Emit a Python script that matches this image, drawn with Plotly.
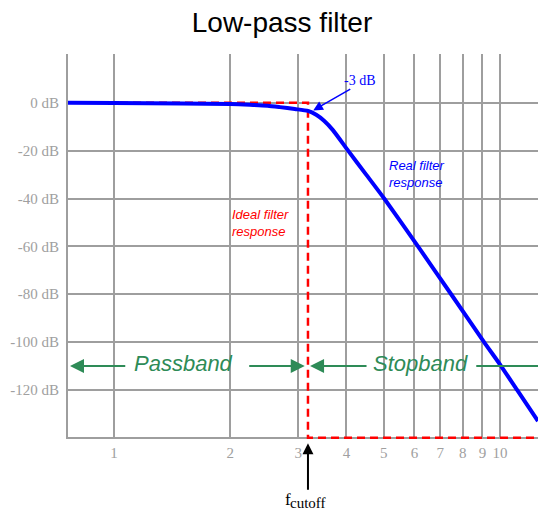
import numpy as np
import plotly.graph_objects as go

# ---------------- data ----------------
title_text = "Low-pass filter"

# real filter response: frequency (relative units) and gain in dB
real_freq = [0.76, 1.0, 1.5, 2.0, 2.25, 2.5, 2.69, 2.94, 3.18, 3.34, 3.50, 3.69,
             4.04, 4.50, 5.01, 6.13, 7.47, 9.09, 10.06, 11.07, 12.54]
real_gain = [0.0, -0.1, -0.3, -0.5, -0.8, -1.2, -1.8, -2.6, -3.4, -5.0, -7.5, -11.4,
             -20.0, -30.0, -40.0, -60.0, -80.0, -100.0, -110.0, -120.0, -133.0]

# ideal (brick-wall) response
f_cutoff = 3.18
ideal_freq = [0.76, f_cutoff, f_cutoff, 12.54]
ideal_gain = [0.0, 0.0, -140.0, -140.0]

x_tick_vals = [1, 2, 3, 4, 5, 6, 7, 8, 9, 10]
x_tick_text = ["1", "2", "3", "4", "5", "6", "7", "8", "9", "10"]
y_tick_vals = [-140, -120, -100, -80, -60, -40, -20, 0, 20]
y_tick_text = ["", "-120 dB", "-100 dB", "-80 dB", "-60 dB", "-40 dB", "-20 dB", "0 dB", ""]

x_range = [0.76, 12.54]
y_range = [-140.5, 20.4]

# annotation anchors (data units)
minus3_label = (4.34, 9.2)
minus3_tail = (4.13, 6.1)
minus3_tip = (3.28, -3.2)
real_label = (5.09, -29.9)
ideal_label = (2.0, -50.4)
band_y = -110.0
band_label_y = -109.1
band_labels = ["Passband", "Stopband"]
band_label_x = [1.514, 6.24]
band_arrow_tails = [1.079, 2.22, 4.55, 8.6]
band_arrow_tips = [0.769, 3.12, 3.22, 12.54]
band_arrow_heads = [2, 2, 2, 0]

# ---------------- styles ----------------
GRID = "#9e9e9e"
TICKC = "#a0a0a0"
SERIF = "Liberation Serif"
SANS = "Liberation Sans"
GREEN = "#2e8b57"

fig = go.Figure()

fig.add_trace(go.Scatter(
    x=ideal_freq, y=ideal_gain, mode="lines",
    line=dict(color="#ff0000", width=2.5, dash="8px,5px"),
    hoverinfo="skip", showlegend=False))

fig.add_trace(go.Scatter(
    x=real_freq, y=real_gain, mode="lines",
    line=dict(color="#0000ff", width=4, shape="spline", smoothing=0.6),
    hoverinfo="skip", showlegend=False))

L = np.log10
ann = []

# -3 dB label and arrow
ann.append(dict(x=L(minus3_label[0]), y=minus3_label[1], xref="x", yref="y",
                text="-3 dB", showarrow=False,
                font=dict(family=SERIF, size=14, color="#0000ff")))
ann.append(dict(x=L(minus3_tip[0]), y=minus3_tip[1], xref="x", yref="y",
                ax=L(minus3_tail[0]), ay=minus3_tail[1], axref="x", ayref="y",
                text="", showarrow=True, arrowhead=2, arrowsize=1.3, arrowwidth=1.5,
                arrowcolor="#0000ff"))

ann.append(dict(x=L(real_label[0]), y=real_label[1], xref="x", yref="y", xanchor="left",
                text="Real filter<br>response", showarrow=False, align="left",
                font=dict(family=SANS, size=13, color="#0000ff", style="italic")))
ann.append(dict(x=L(ideal_label[0]), y=ideal_label[1], xref="x", yref="y", xanchor="left",
                text="Ideal filter<br>response", showarrow=False, align="left",
                font=dict(family=SANS, size=13, color="#ff0000", style="italic")))

for txt, xx in zip(band_labels, band_label_x):
    ann.append(dict(x=L(xx), y=band_label_y, xref="x", yref="y",
                    text=txt, showarrow=False,
                    font=dict(family=SANS, size=22, color=GREEN, style="italic")))
for tail, tip, head in zip(band_arrow_tails, band_arrow_tips, band_arrow_heads):
    ann.append(dict(x=L(tip), y=band_y, xref="x", yref="y",
                    ax=L(tail), ay=band_y, axref="x", ayref="y",
                    text="", showarrow=True, arrowhead=head, arrowsize=1.4, arrowwidth=2,
                    arrowcolor=GREEN))

# f_cutoff marker below the axis
ann.append(dict(x=L(f_cutoff), y=-0.0112, xref="x", yref="paper",
                ax=0, ay=48, text="", showarrow=True, arrowhead=2, arrowsize=1.1,
                arrowwidth=2, arrowcolor="black"))
ann.append(dict(x=L(f_cutoff), y=0, xref="x", yref="paper", xshift=-19.8, yshift=-60.5,
                text="f", showarrow=False, yanchor="middle",
                font=dict(family=SERIF, size=17, color="black")))
ann.append(dict(x=L(f_cutoff), y=0, xref="x", yref="paper", xshift=0, yshift=-63.8,
                text="cutoff", showarrow=False, yanchor="middle",
                font=dict(family=SERIF, size=15, color="black")))

fig.update_layout(
    width=538, height=512,
    margin=dict(l=68, r=0, t=54, b=73),
    paper_bgcolor="white", plot_bgcolor="white",
    title=dict(text=title_text, x=282 / 538, xanchor="center", xref="container",
               y=1 - 22.5 / 512, yanchor="middle", yref="container",
               font=dict(family=SANS, size=28, color="black")),
    annotations=ann,
    showlegend=False,
)

fig.update_xaxes(type="log", range=[L(x_range[0]), L(x_range[1])],
                 tickvals=x_tick_vals, ticktext=x_tick_text,
                 showgrid=True, gridcolor=GRID, gridwidth=2,
                 showline=False, zeroline=False, ticks="",
                 ticklabelstandoff=3,
                 tickfont=dict(family=SERIF, size=15, color=TICKC))
fig.update_yaxes(range=y_range, tickvals=y_tick_vals, ticktext=y_tick_text,
                 showgrid=True, gridcolor=GRID, gridwidth=2,
                 showline=True, linecolor=GRID, linewidth=2,
                 zeroline=False, ticks="", ticklabelstandoff=4,
                 tickfont=dict(family=SERIF, size=15, color=TICKC))

fig.write_html("out.html", config={"displayModeBar": False},
               post_script="document.body.style.margin='0px';")
